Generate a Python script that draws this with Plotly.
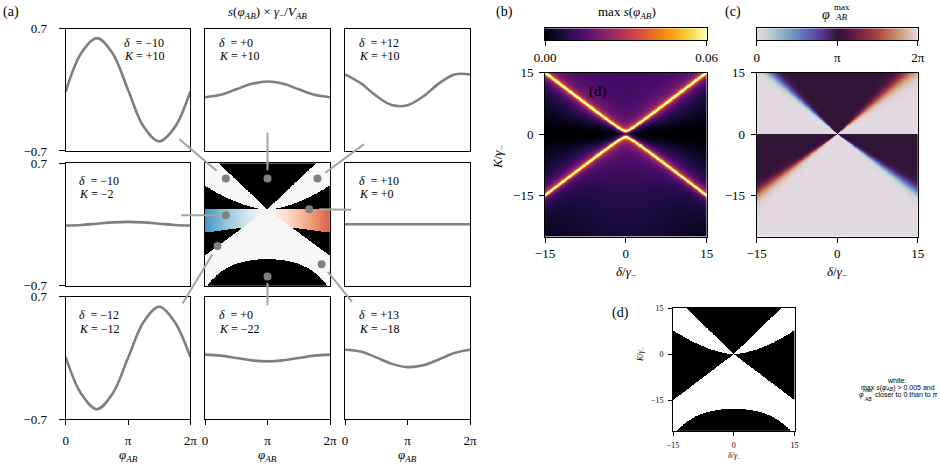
import numpy as np
import plotly.graph_objects as go

W, H = 940, 470
SERIF = "Liberation Serif"
SANS = "Liberation Sans"
LINE_GRAY = "#7f7f7f"
DOT_GRAY = "#808080"
CONN_GRAY = "#a3a3a3"

# ---------------- (a) s(phi_AB) * gamma_- / V_AB, read at phi = k*pi/4
phi_samples = [0, np.pi / 4, np.pi / 2, 3 * np.pi / 4, np.pi,
               5 * np.pi / 4, 3 * np.pi / 2, 7 * np.pi / 4, 2 * np.pi]
panel_delta = [-10, 0, 12, -10, None, 10, -12, 0, 13]
panel_K = [10, 10, 10, -2, None, 0, -12, -22, -18]
s_m10_p10 = [-0.02, 0.42, 0.59, 0.42, 0.0, -0.42, -0.59, -0.43, -0.02]
s_0_p10 = [-0.085, -0.058, 0.005, 0.068, 0.095, 0.068, 0.005, -0.058, -0.085]
s_12_p10 = [0.176, 0.075, -0.07, -0.175, -0.177, -0.077, 0.07, 0.175, 0.176]
s_m10_m2 = [-0.012, -0.006, 0.009, 0.024, 0.03, 0.024, 0.009, -0.006, -0.012]
s_10_0 = [0.003, 0.003, 0.003, 0.003, 0.003, 0.003, 0.003, 0.003, 0.003]
s_m12_m12 = [0.01, -0.41, -0.585, -0.41, 0.0, 0.41, 0.585, 0.41, 0.01]
s_0_m22 = [0.038, 0.027, 0.0, -0.027, -0.038, -0.027, 0.0, 0.027, 0.038]
s_13_m18 = [0.094, 0.074, 0.007, -0.067, -0.104, -0.084, -0.017, 0.057, 0.094]
panel_curves = [s_m10_p10, s_0_p10, s_12_p10, s_m10_m2, None, s_10_0,
                s_m12_m12, s_0_m22, s_13_m18]

# ---------------- maps over (delta, K)
delta_grid = np.linspace(-15, 15, 301)
K_grid = np.linspace(-25, 15, 401)

# (b) max s(phi_AB): features
ridge_apex = 0.7          # bright ridges at K = +-sqrt(delta^2 + apex^2)
ridge_peak = 0.06
ridge_width = 0.2
glow_amp, glow_len = 0.014, 0.6
halo_in_amp, halo_in_len = 0.009, 3.0
halo_out_amp, halo_out_len = 0.02, 3.5
dark_band = 3.0           # black strip around K = 0
top_level = 0.0115
bottom_level, bottom_decay_K, bottom_decay_delta = 0.0135, 30.0, 14.0

# (c) phi_AB^max: angle (atan K/|delta|) of the phase step and its width
phase_edge_up = [0.875, 0.86]     # left, right (K > 0)
phase_width_up = [0.03, 0.045]
phase_edge_lo = [0.76, 0.76]      # left, right (K < 0)
phase_width_lo = [0.035, 0.03]

# (d) / centre of (a): boundaries of the white regions
wedge_lo_coef, wedge_lo_pow = 0.084, 1.67
wedge_hi_slope = 1.28
floor_d = [-17.9, 0.0211, 7.7e-5]
floor_a = [-16.3, 0.0211, 9.6e-5]
band_bottom = [-5.0, 0.17]
band_strength = 0.6

# colour-bar ramps
cbar_s = np.linspace(0, 0.06, 256)
cbar_phi = np.linspace(0, 2 * np.pi, 256)

D, KK = np.meshgrid(delta_grid, K_grid)
A = np.abs(D)

R = np.sqrt(D ** 2 + ridge_apex ** 2)
dist = (np.abs(KK) - R) / np.sqrt(2)
inside = dist > 0
core = ridge_peak / (1 + (dist / ridge_width) ** 2)
glow = glow_amp * np.exp(-np.abs(dist) / glow_len)
halo = np.where(inside, halo_in_amp * np.exp(-dist / halo_in_len),
                halo_out_amp * np.exp(dist / halo_out_len) * (1 - np.exp(-(KK / dark_band) ** 2)))
base = np.where(inside & (KK > 0), top_level, 0.0) + \
    np.where(inside & (KK < 0), bottom_level * np.exp(KK / bottom_decay_K) *
             np.exp(-(D / bottom_decay_delta) ** 2), 0.0)
s_map = np.clip(core + glow + halo + base, 0, ridge_peak).astype(np.float32)

theta = np.arctan2(np.abs(KK), A)
left = D < 0


def step(edge, width):
    return 1 / (1 + np.exp(-(theta - edge) / width))


g_up = np.where(left, step(phase_edge_up[0], phase_width_up[0]), step(phase_edge_up[1], phase_width_up[1]))
g_lo = np.where(left, step(phase_edge_lo[0], phase_width_lo[0]), step(phase_edge_lo[1], phase_width_lo[1]))
sgn = np.where(left, -1.0, 1.0)
phi_map = np.where(KK >= 0, np.pi + sgn * np.pi * (1 - g_up), np.pi - sgn * np.pi * g_lo).astype(np.float32)


def floor(c):
    return c[0] - c[1] * D ** 2 - c[2] * D ** 4


wedge = (KK > 0) & (KK > wedge_lo_coef * A ** wedge_lo_pow) & (KK < wedge_hi_slope * A)
mask_d = (wedge | ((KK < 0) & (KK < -A) & (KK > floor(floor_d)))).astype(np.float32)

centre = np.full(D.shape, -3.0)
centre[wedge | ((KK < 0) & (KK < -A) & (KK > floor(floor_a)))] = 0.0
band = (KK <= 0) & (KK >= -A) & (KK > band_bottom[0] - band_bottom[1] * A)
centre[band] = band_strength * D[band] / 15
centre = centre.astype(np.float32)

# ---------------- colour scales
rdbu_r = ['#053061', '#2166ac', '#4393c3', '#92c5de', '#d1e5f0', '#f7f7f7',
          '#fddbc7', '#f4a582', '#d6604d', '#b2182b', '#67001f']
centre_scale = [[0, 'black'], [0.4999, 'black']] + \
    [[0.5 + 0.05 * i, c] for i, c in enumerate(rdbu_r)]
twilight = [[0.0, '#e2d9e2'], [0.06, '#c9d3da'], [0.12, '#a5bfcf'], [0.19, '#82a4c7'],
            [0.25, '#6b87c0'], [0.31, '#6067b8'], [0.37, '#5d47a6'], [0.43, '#522a7d'],
            [0.5, '#2f1436'], [0.56, '#4e1541'], [0.62, '#6e1f48'], [0.69, '#8e2f45'],
            [0.75, '#a8453f'], [0.81, '#ba6a50'], [0.87, '#c9906f'], [0.94, '#d7b8a8'],
            [1.0, '#e2d9e2']]


# ---------------- layout helpers (pixel -> paper)
def px(x):
    return x / W


def py(y):
    return 1 - y / H


def xdom(a, b):
    return [px(a), px(b)]


def ydom(top, bottom):
    return [py(bottom), py(top)]


cols = [(65.7, 190.3), (205, 330), (345, 470)]
rows = [(28.5, 151), (163.3, 285.7), (296.7, 419.3)]

fig = go.Figure()
layout = {}
frame = dict(showline=True, mirror=True, linecolor='black', linewidth=1,
             showgrid=False, zeroline=False)

for i in range(9):
    r, c = divmod(i, 3)
    n = i + 1
    xa = dict(frame, domain=xdom(*cols[c]), anchor='y%d' % n)
    ya = dict(frame, domain=ydom(*rows[r]), anchor='x%d' % n)
    if i == 4:
        xa.update(range=[-15, 15], showticklabels=False, ticks='')
        ya.update(range=[-25, 15], showticklabels=False, ticks='')
        fig.add_trace(go.Heatmap(x=delta_grid, y=K_grid, z=centre, colorscale=centre_scale,
                                 zmin=-3, zmax=1, showscale=False, hoverinfo='skip',
                                 xaxis='x5', yaxis='y5'))
    else:
        xa.update(range=[-1e-4, 2 * np.pi + 1e-4])
        ya.update(range=[-0.7001, 0.7001])
        if r == 2:
            xa.update(tickvals=[0, np.pi, 2 * np.pi], ticktext=['0', 'π', '2π'],
                      ticks='outside', ticklen=5, tickcolor='black', ticklabelstandoff=4)
        else:
            xa.update(showticklabels=False, ticks='')
        if c == 0:
            ya.update(tickvals=[-0.7, 0.7], ticktext=['−0.7', '0.7'], ticks='outside',
                      ticklen=6, tickcolor='black', ticklabelstandoff=9)
        else:
            ya.update(showticklabels=False, ticks='')
        fig.add_trace(go.Scatter(x=phi_samples, y=panel_curves[i], mode='lines',
                                 line=dict(color=LINE_GRAY, width=2.6, shape='spline', smoothing=1.0),
                                 hoverinfo='skip', xaxis='x%d' % n, yaxis='y%d' % n))
    layout['xaxis%d' % n if n > 1 else 'xaxis'] = xa
    layout['yaxis%d' % n if n > 1 else 'yaxis'] = ya

# dots marking the sampled (delta, K) points
dot_delta = [d for d in panel_delta if d is not None]
dot_K = [k for k in panel_K if k is not None]
fig.add_trace(go.Scatter(x=dot_delta, y=dot_K, mode='markers',
                         marker=dict(color=DOT_GRAY, size=8), hoverinfo='skip',
                         xaxis='x5', yaxis='y5'))

map_axis_x = dict(frame, range=[-15, 15], tickvals=[-15, 0, 15], ticktext=['−15', '0', '15'],
                  ticks='outside', ticklen=5, tickcolor='black')
map_axis_y = dict(frame, range=[-25, 15], tickvals=[-15, 0, 15], ticktext=['−15', '0', '15'],
                  ticks='outside', ticklen=5, tickcolor='black')

# (b)
layout['xaxis10'] = dict(map_axis_x, domain=xdom(545, 706.7), anchor='y10', ticklabelstandoff=0)
layout['yaxis10'] = dict(map_axis_y, domain=ydom(72.7, 236.7), anchor='x10', ticklabelstandoff=3)
fig.add_trace(go.Heatmap(x=delta_grid, y=K_grid, z=s_map, colorscale='Inferno', zmin=0, zmax=0.06,
                         showscale=False, hoverinfo='skip', xaxis='x10', yaxis='y10'))

# (c)
layout['xaxis11'] = dict(map_axis_x, domain=xdom(756.7, 917.7), anchor='y11', ticklabelstandoff=0)
layout['yaxis11'] = dict(map_axis_y, domain=ydom(72.7, 236.7), anchor='x11', ticklabelstandoff=3)
fig.add_trace(go.Heatmap(x=delta_grid, y=K_grid, z=phi_map, colorscale=twilight, zmin=0,
                         zmax=2 * np.pi, showscale=False, hoverinfo='skip',
                         xaxis='x11', yaxis='y11'))

# (d)
small = dict(family=SERIF, size=8)
layout['xaxis12'] = dict(map_axis_x, domain=xdom(673, 794.5), anchor='y12', ticklen=4,
                         tickfont=small, ticklabelstandoff=2)
layout['yaxis12'] = dict(map_axis_y, domain=ydom(308, 431), anchor='x12', ticklen=4,
                         tickfont=small, ticklabelstandoff=3)
fig.add_trace(go.Heatmap(x=delta_grid, y=K_grid, z=mask_d, colorscale=[[0, 'black'], [1, 'white']],
                         zmin=0, zmax=1, showscale=False, hoverinfo='skip',
                         xaxis='x12', yaxis='y12'))

# colour bars drawn as thin strips with their own axes
cbar_y = dict(frame, domain=ydom(28.3, 40), range=[-0.5, 0.5], showticklabels=False, ticks='')
layout['xaxis13'] = dict(frame, domain=xdom(545, 706.7), anchor='y13', range=[0, 0.06],
                         tickvals=[0, 0.06], ticktext=['0.00', '0.06'], ticks='outside',
                         ticklen=5, tickcolor='black', ticklabelstandoff=0)
layout['yaxis13'] = dict(cbar_y, anchor='x13')
fig.add_trace(go.Heatmap(x=cbar_s, y=[0], z=[cbar_s], colorscale='Inferno', zmin=0, zmax=0.06,
                         showscale=False, hoverinfo='skip', xaxis='x13', yaxis='y13'))
layout['xaxis14'] = dict(frame, domain=xdom(756.7, 917.7), anchor='y14', range=[0, 2 * np.pi],
                         tickvals=[0, np.pi, 2 * np.pi], ticktext=['0', 'π', '2π'], ticks='outside',
                         ticklen=5, tickcolor='black', ticklabelstandoff=0)
layout['yaxis14'] = dict(cbar_y, anchor='x14')
fig.add_trace(go.Heatmap(x=cbar_phi, y=[0], z=[cbar_phi], colorscale=twilight, zmin=0,
                         zmax=2 * np.pi, showscale=False, hoverinfo='skip',
                         xaxis='x14', yaxis='y14'))

# ---------------- text
ann = []


def text(t, x, y, size=13, xanchor='center', family=SERIF, angle=0, yanchor='middle'):
    ann.append(dict(text=t, x=px(x), y=py(y), xref='paper', yref='paper', showarrow=False,
                    xanchor=xanchor, yanchor=yanchor, textangle=angle,
                    font=dict(family=family, size=size, color='black')))


text('(a)', 10.5, 12, 14)
text('(b)', 504, 12, 14)
text('(c)', 733, 12, 14)
text('(d)', 620, 313, 14)
text('(d)', 598, 91, 15)
text('<i>s</i>(<i>φ</i><sub><i>AB</i></sub>) × <i>γ</i><sub>−</sub>/<i>V</i><sub><i>AB</i></sub>', 267, 13)
text('max <i>s</i>(<i>φ</i><sub><i>AB</i></sub>)', 626.7, 13)
text('<i>φ</i>', 826, 14, 14)
text('max', 842, 7, 9)
text('<i>AB</i>', 841, 17, 9)

for xc in [128, 267.5, 407.5]:
    text('<i>φ</i><sub><i>AB</i></sub>', xc, 455)
for xc in [626, 837]:
    text('<i>δ</i>/<i>γ</i><sub>−</sub>', xc, 272)
text('<i>K</i>/<i>γ</i><sub>−</sub>', 498, 157, angle=-90)
text('<i>δ</i>/<i>γ</i><sub>−</sub>', 733.5, 455.5, 8)
text('<i>K</i>/<i>γ</i><sub>−</sub>', 641, 355, 8, angle=-90)

# caption of (d)
text('white:', 896, 380.5, 7, family=SANS)
text('max <i>s</i>(<i>φ</i><sub><i>AB</i></sub>) > 0.005 and', 898, 387.5, 7, family=SANS)
text('<i>φ</i>', 861, 394.5, 7, family=SANS)
text('max', 868, 390.3, 5, family=SANS)
text('<i>AB</i>', 867.5, 398.5, 5, family=SANS)
text('closer to 0 than to <i>π</i>', 873, 394.5, 7, family=SANS, xanchor='left')

label_pos = [(122, 43), (217, 43), (357, 43), (77, 180.7), None, (357, 180.7),
             (77, 315), (217, 315), (357, 315)]
for i, pos in enumerate(label_pos):
    if pos is None:
        continue
    dv, kv = panel_delta[i], panel_K[i]
    dtxt = ('+%d' % dv if dv >= 0 else '−%d' % -dv)
    ktxt = ('+%d' % kv if kv >= 0 else '−%d' % -kv)
    text('<i>δ</i>\u00a0\u00a0= ' + dtxt, pos[0], pos[1], 12, xanchor='left')
    text('<i>K</i> = ' + ktxt, pos[0], pos[1] + 13.5, 12, xanchor='left')

# connectors from the dots towards their panels (pixel offsets, gap to the dot)
conn = [(-48, -40.6, 12), (0, -47.3, 8.3), (48, -35.6, 9.8), (-46, 0, 6),
        (43.6, 0.5, 10), (-35.8, 59, 10.4), (0, 30.2, 6.5), (31.6, 39, 9.9)]
for (dx, dy, gap), dv, kv in zip(conn, dot_delta, dot_K):
    ann.append(dict(x=dv, y=kv, xref='x5', yref='y5', ax=dx, ay=dy, text='',
                    showarrow=True, arrowhead=0, arrowwidth=2, arrowcolor=CONN_GRAY,
                    standoff=gap))

layout.update(
    width=W, height=H, margin=dict(l=0, r=0, t=0, b=0, autoexpand=False),
    paper_bgcolor='white', plot_bgcolor='white', showlegend=False,
    font=dict(family=SERIF, size=13, color='black'),
    annotations=ann,
)
fig.update_layout(**layout)
fig.write_html("out.html", config={'displayModeBar': False, 'staticPlot': True},
               post_script="document.body.style.margin='0';")
